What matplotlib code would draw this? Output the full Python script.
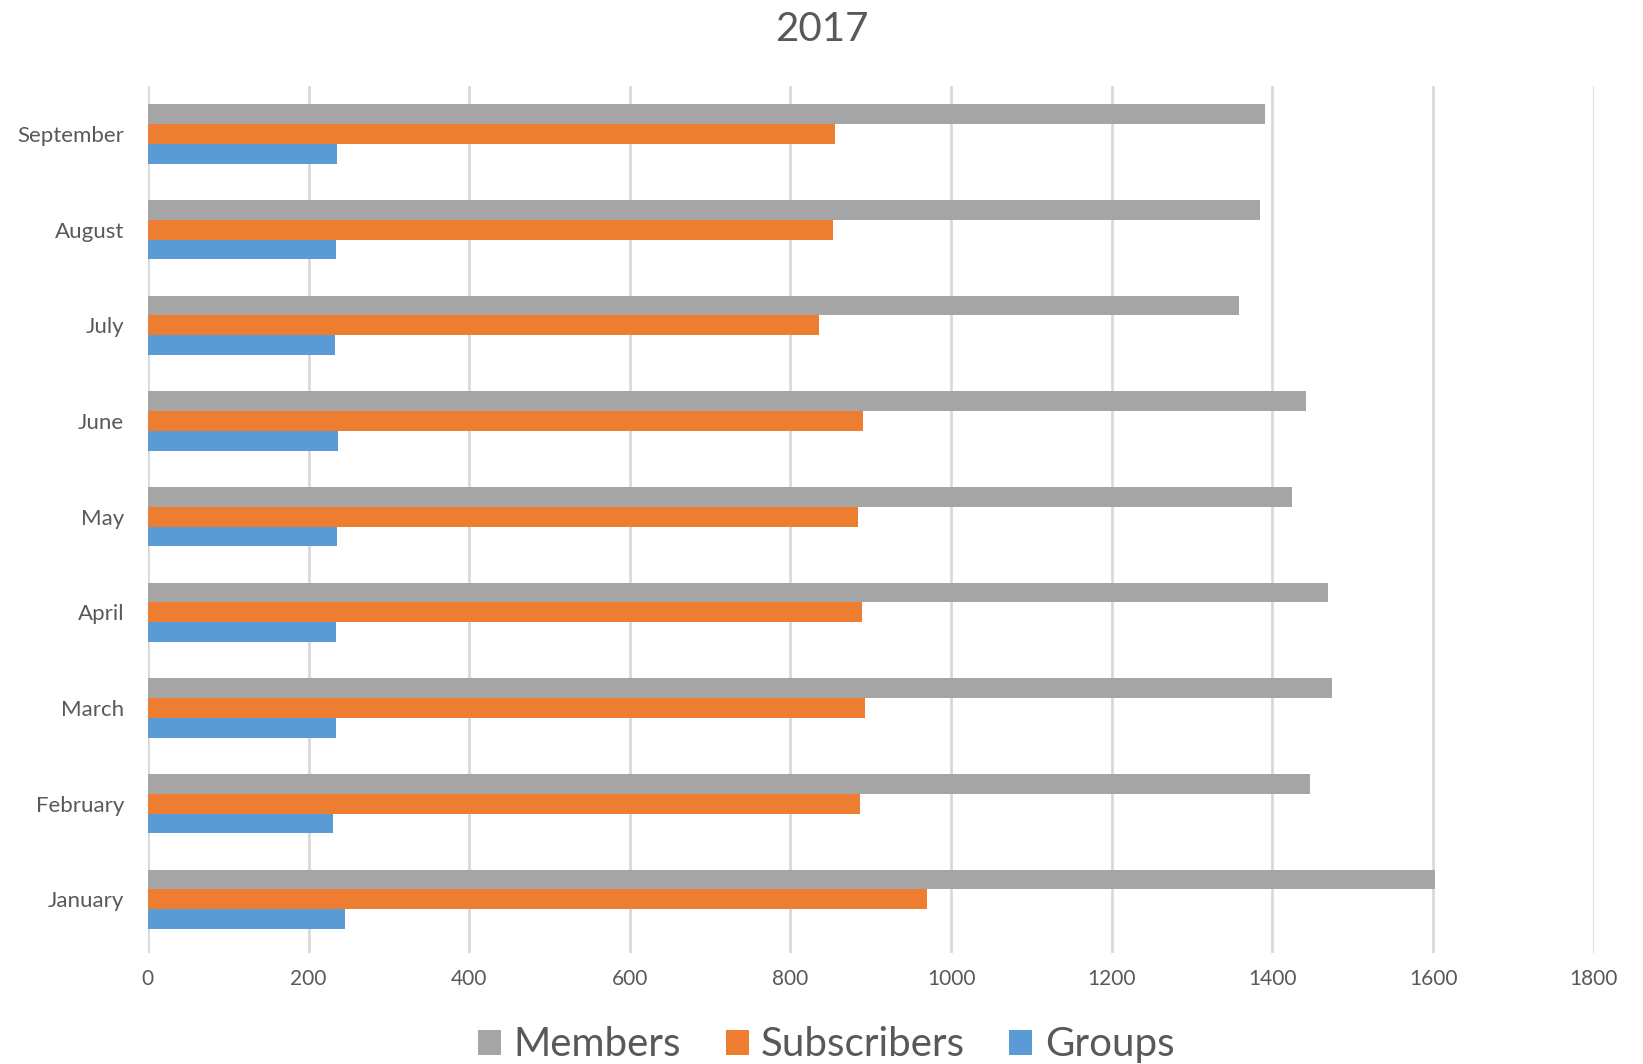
import matplotlib
matplotlib.use("Agg")
import matplotlib.pyplot as plt
import numpy as np

months = ["January", "February", "March", "April", "May", "June", "July", "August", "September"]
members = [1602, 1447, 1474, 1469, 1425, 1442, 1359, 1385, 1391]
subscribers = [970, 886, 893, 889, 884, 890, 835, 853, 856]
groups = [246, 231, 234, 234, 235, 237, 233, 234, 235]
xticks = [0, 200, 400, 600, 800, 1000, 1200, 1400, 1600, 1800]

plt.rcParams['font.family'] = ['Lato', 'DejaVu Sans']
TXT = '#595959'

fig = plt.figure(figsize=(16.43, 10.64), dpi=100)
ax = fig.add_axes([0.090, 0.104, 0.880, 0.815])

y = np.arange(len(months))
h = 0.207
ax.barh(y + h, members, height=h, color='#A5A5A5', label='Members', zorder=3)
ax.barh(y, subscribers, height=h, color='#ED7D31', label='Subscribers', zorder=3)
ax.barh(y - h, groups, height=h, color='#5B9BD5', label='Groups', zorder=3)

ax.set_xlim(0, 1800)
ax.set_ylim(-0.565, len(months) - 0.5)
ax.set_xticks(xticks)
ax.set_xticklabels([str(v) for v in xticks])
ax.set_yticks(y)
ax.set_yticklabels(months)
ax.tick_params(axis='both', length=0, labelcolor=TXT)
ax.tick_params(axis='y', pad=17, labelsize=16)
ax.tick_params(axis='x', pad=11, labelsize=15)
for s in ax.spines.values():
    s.set_visible(False)
ax.xaxis.grid(True, color='#D9D9D9', linewidth=2, zorder=0)
ax.set_axisbelow(True)

fig.text(0.5, 0.972, '2017', ha='center', va='center', fontsize=29, color=TXT)

leg = fig.legend(loc='center', bbox_to_anchor=(0.503, 0.018), ncol=3, frameon=False,
                 fontsize=29, handlelength=0.57, handleheight=0.57, handletextpad=0.31,
                 columnspacing=1.1, labelcolor=TXT)

fig.savefig('out.png', dpi=100)
